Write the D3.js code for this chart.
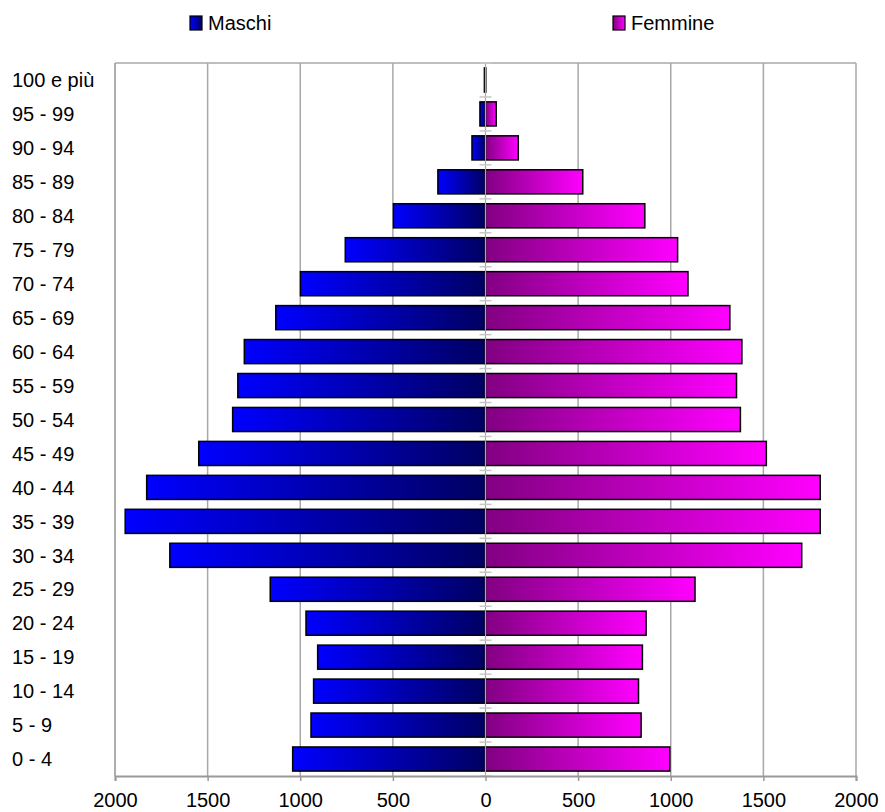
<!DOCTYPE html>
<html>
<head>
<meta charset="utf-8">
<script src="https://cdn.jsdelivr.net/npm/d3@7"></script>
<style>
  body { margin: 0; background: #fff; }
  text { font-family: "Liberation Sans", Arial, sans-serif; }
</style>
</head>
<body>
<svg id="chart" width="885" height="812"></svg>
<script>
// age classes, bottom to top
const categories = ["0 - 4", "5 - 9", "10 - 14", "15 - 19", "20 - 24", "25 - 29", "30 - 34",
    "35 - 39", "40 - 44", "45 - 49", "50 - 54", "55 - 59", "60 - 64", "65 - 69",
    "70 - 74", "75 - 79", "80 - 84", "85 - 89", "90 - 94", "95 - 99", "100 e più"];

const maschi = [1041, 942, 928, 906, 969, 1162, 1704, 1945, 1829, 1548, 1365,
    1337, 1302, 1132, 999, 757, 497, 257, 73, 30, 6];

const femmine = [995, 840, 826, 847, 867, 1131, 1707, 1807, 1807, 1516, 1376,
    1355, 1384, 1319, 1093, 1037, 860, 525, 177, 58, 1];

const xTicks = [-2000, -1500, -1000, -500, 0, 500, 1000, 1500, 2000];

const seriesNames = ["Maschi", "Femmine"];


const svg = d3.select("#chart");
const plotLeft = 115, plotRight = 856, plotTop = 63, plotBottom = 776;

const x = d3.scaleLinear().domain([-2000, 2000]).range([plotLeft, plotRight]);
const y = d3.scaleBand()
    .domain(categories.slice().reverse())
    .range([plotTop, plotBottom])
    .paddingInner(0.29)
    .paddingOuter(0.145);

//GRADIENTS
const defs = svg.append("defs");
const gM = defs.append("linearGradient").attr("id", "gradM");
gM.append("stop").attr("offset", "0%").attr("stop-color", "#0000ff");
gM.append("stop").attr("offset", "100%").attr("stop-color", "#000062");
const gF = defs.append("linearGradient").attr("id", "gradF");
gF.append("stop").attr("offset", "0%").attr("stop-color", "#820082");
gF.append("stop").attr("offset", "100%").attr("stop-color", "#ff00ff");

//GRID
svg.append("g")
    .selectAll("line")
    .data(xTicks.filter(d => d !== 0))
    .enter()
    .append("line")
    .attr("x1", d => x(d))
    .attr("x2", d => x(d))
    .attr("y1", plotTop)
    .attr("y2", plotBottom)
    .attr("stroke", "#a8a8a8")
    .attr("stroke-width", 1.5);

svg.append("line")
    .attr("x1", plotLeft).attr("x2", plotRight)
    .attr("y1", plotTop).attr("y2", plotTop)
    .attr("stroke", "#a8a8a8")
    .attr("stroke-width", 1.5);

//BARS
const rows = categories.map((c, i) => ({ cat: c, m: maschi[i], f: femmine[i] }));

svg.append("g")
    .selectAll("rect")
    .data(rows)
    .enter()
    .append("rect")
    .attr("x", d => x(-d.m))
    .attr("y", d => y(d.cat))
    .attr("width", d => x(0) - x(-d.m))
    .attr("height", y.bandwidth())
    .attr("fill", "url(#gradM)")
    .attr("stroke", "#000")
    .attr("stroke-width", 1.5);

svg.append("g")
    .selectAll("rect")
    .data(rows)
    .enter()
    .append("rect")
    .attr("x", x(0))
    .attr("y", d => y(d.cat))
    .attr("width", d => x(d.f) - x(0))
    .attr("height", y.bandwidth())
    .attr("fill", "url(#gradF)")
    .attr("stroke", "#000")
    .attr("stroke-width", 1.5);

//CENTER AXIS
svg.append("line")
    .attr("x1", x(0)).attr("x2", x(0))
    .attr("y1", plotTop).attr("y2", plotBottom)
    .attr("stroke", "#a8a8a8")
    .attr("stroke-width", 1.2);

const step = y.step();
svg.append("g")
    .selectAll("line")
    .data(d3.range(categories.length + 1))
    .enter()
    .append("line")
    .attr("x1", x(0) - 6)
    .attr("x2", x(0) + 6)
    .attr("y1", i => plotTop + i * step)
    .attr("y2", i => plotTop + i * step)
    .attr("stroke", "#c8c8c8")
    .attr("stroke-width", 1.5);

//X AXIS
const xAxis = svg.append("g")
    .attr("transform", "translate(0," + plotBottom + ")")
    .call(d3.axisBottom(x).tickValues(xTicks).tickSize(5).tickPadding(12)
        .tickFormat(d => Math.abs(d)));
xAxis.select(".domain").attr("stroke", "#999").attr("stroke-width", 2);
xAxis.selectAll(".tick line").attr("stroke", "#999").attr("stroke-width", 1.5);
xAxis.selectAll("text")
    .attr("fill", "#000")
    .attr("font-size", 20)
    .attr("font-family", "Liberation Sans, Arial, sans-serif");

// left border
svg.append("line")
    .attr("x1", plotLeft).attr("x2", plotLeft)
    .attr("y1", plotTop).attr("y2", plotBottom)
    .attr("stroke", "#a8a8a8")
    .attr("stroke-width", 1.5);

//CATEGORY LABELS
svg.append("g")
    .selectAll("text")
    .data(categories)
    .enter()
    .append("text")
    .text(d => d)
    .attr("x", 12)
    .attr("y", d => y(d) + y.bandwidth() / 2)
    .attr("dy", "0.36em")
    .attr("font-size", 20)
    .attr("fill", "#000");

//LEGEND
const legendX = [190, 613];
const legend = svg.append("g")
    .selectAll("g")
    .data(seriesNames)
    .enter()
    .append("g")
    .attr("transform", (d, i) => "translate(" + legendX[i] + ",16)");

legend.append("rect")
    .attr("width", 12)
    .attr("height", 14)
    .attr("fill", (d, i) => i === 0 ? "url(#gradM)" : "url(#gradF)")
    .attr("stroke", "#000")
    .attr("stroke-width", 1.2);

legend.append("text")
    .text(d => d)
    .attr("x", 18)
    .attr("y", 14)
    .attr("font-size", 20)
    .attr("fill", "#000");
</script>
</body>
</html>
